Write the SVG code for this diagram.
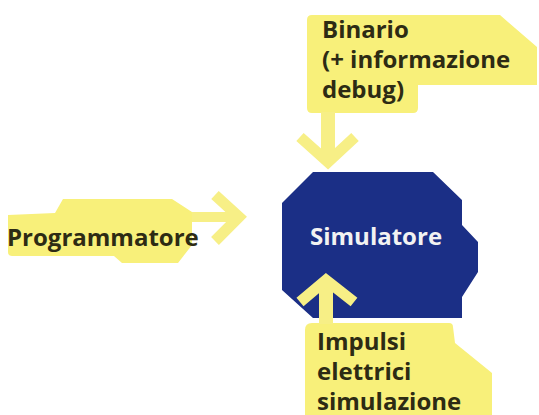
<svg xmlns="http://www.w3.org/2000/svg" width="539" height="415" viewBox="0 0 539 415">
<style>
.box{fill:#f8f07a;stroke:none}
.lbl{font-family:"Open Sans","DejaVu Sans",sans-serif;font-weight:700;font-size:24px;fill:#2d2b14}
.arrow{fill:none;stroke:#f7ef86;stroke-width:11;stroke-linejoin:miter;stroke-miterlimit:10}
.shaft{fill:#f7ef86}
</style>
<rect width="539" height="415" fill="#ffffff"/>
<g id="simulatore">
<path d="M313 172 L433 172 L462 200 L462 225 L478 242 L478 272 L462 297 L462 318 L313 318 L282 290 L282 203 Z" fill="#1b2f86"/>
<text x="310" y="245" class="lbl" style="fill:#f2f2f2">Simulatore</text>
</g>
<g id="programmatore">
<path class="box" d="M8 215 L55 213 L63 199 L172 199 L192 212 L192 245 L178 263 L122 263 L114 256 L12 256 Q8 256 8 252 Z"/>
<text x="7" y="246" class="lbl">Programmatore</text>
</g>
<g id="binario">
<path class="box" d="M312 15 L500 15 L537 47 L537 85 L418 85 L418 108 Q418 113 413 113 L312 113 Q307 113 307 108 L307 20 Q307 15 312 15 Z"/>
<text class="lbl"><tspan x="322" y="38">Binario</tspan><tspan x="322" y="68">(+ informazione</tspan><tspan x="322" y="98">debug)</tspan></text>
</g>
<g id="impulsi">
<path class="box" d="M312 323 L449 323 Q453 323 453 327 L455 343 L492 373 L492 415 L305 415 L305 330 Q305 323 312 323 Z"/>
<text class="lbl"><tspan x="317" y="350">Impulsi</tspan><tspan x="317" y="380">elettrici</tspan><tspan x="317" y="410">simulazione</tspan></text>
</g>
<g id="connectors">
<rect class="shaft" x="192" y="212" width="48" height="10"/>
<polyline class="arrow" points="215,195 239,217 215,241"/>
<rect class="shaft" x="321" y="112" width="14" height="48"/>
<polyline class="arrow" points="300,137 328,162 355,137"/>
<rect class="shaft" x="319" y="282" width="14" height="42"/>
<polyline class="arrow" points="300,302 326,280 354,302"/>
</g>
</svg>
